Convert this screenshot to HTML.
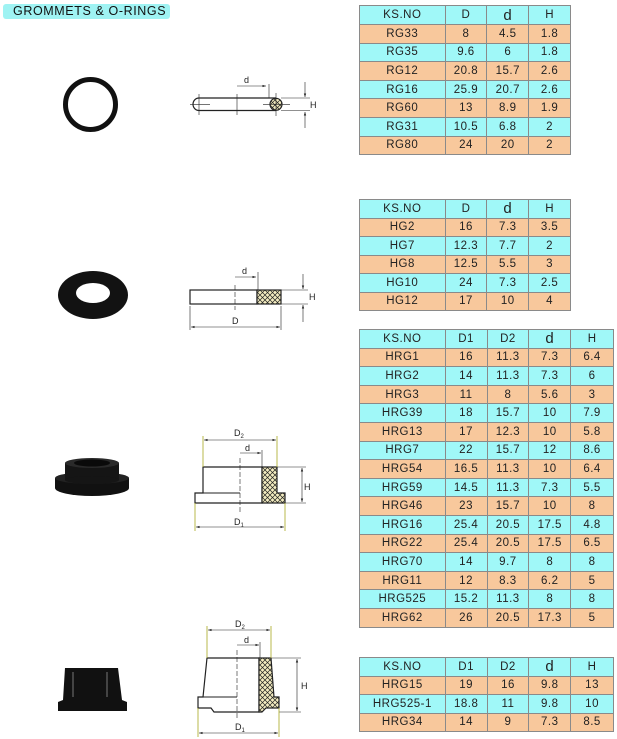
<!DOCTYPE html>
<html><head><meta charset="utf-8"><style>
html,body{margin:0;padding:0;background:#fff;}
body{width:617px;height:739px;position:relative;overflow:hidden;font-family:"Liberation Sans",sans-serif;}
.tag{position:absolute;left:3px;top:4px;width:167px;height:15px;background:#9ff3f3;border-radius:3px;font-size:12.5px;line-height:15px;letter-spacing:0.6px;padding-left:10px;box-sizing:border-box;color:#111;}
table{position:absolute;border-collapse:collapse;font-size:11.5px;color:#222;letter-spacing:0.5px;}
td{border:1px solid #8a8a8a;text-align:center;padding:0;}
tr.c td{background:#a0f8f8;}
tr.o td{background:#f8c89c;}
.dd{font-size:15px;}
svg{position:absolute;left:0;top:0;}
</style></head><body>
<div class="tag">GROMMETS &amp; O-RINGS</div>

<table style="left:359px;top:5px;width:212px;">
<colgroup><col style="width:86px"><col style="width:42px"><col style="width:42px"><col style="width:42px"></colgroup>
<tr class="c" style="height:19px"><td>KS.NO</td><td>D</td><td class="dd">d</td><td>H</td></tr>
<tr class="o" style="height:18.6px"><td>RG33</td><td>8</td><td>4.5</td><td>1.8</td></tr>
<tr class="c" style="height:18.6px"><td>RG35</td><td>9.6</td><td>6</td><td>1.8</td></tr>
<tr class="o" style="height:18.6px"><td>RG12</td><td>20.8</td><td>15.7</td><td>2.6</td></tr>
<tr class="c" style="height:18.6px"><td>RG16</td><td>25.9</td><td>20.7</td><td>2.6</td></tr>
<tr class="o" style="height:18.6px"><td>RG60</td><td>13</td><td>8.9</td><td>1.9</td></tr>
<tr class="c" style="height:18.6px"><td>RG31</td><td>10.5</td><td>6.8</td><td>2</td></tr>
<tr class="o" style="height:18.6px"><td>RG80</td><td>24</td><td>20</td><td>2</td></tr>
</table>

<table style="left:359px;top:199px;width:212px;">
<colgroup><col style="width:86px"><col style="width:42px"><col style="width:42px"><col style="width:42px"></colgroup>
<tr class="c" style="height:18.5px"><td>KS.NO</td><td>D</td><td class="dd">d</td><td>H</td></tr>
<tr class="o" style="height:18.5px"><td>HG2</td><td>16</td><td>7.3</td><td>3.5</td></tr>
<tr class="c" style="height:18.5px"><td>HG7</td><td>12.3</td><td>7.7</td><td>2</td></tr>
<tr class="o" style="height:18.5px"><td>HG8</td><td>12.5</td><td>5.5</td><td>3</td></tr>
<tr class="c" style="height:18.5px"><td>HG10</td><td>24</td><td>7.3</td><td>2.5</td></tr>
<tr class="o" style="height:18.5px"><td>HG12</td><td>17</td><td>10</td><td>4</td></tr>
</table>

<table style="left:359px;top:329px;width:255px;">
<colgroup><col style="width:86px"><col style="width:42px"><col style="width:42px"><col style="width:42px"><col style="width:43px"></colgroup>
<tr class="c" style="height:18.6px"><td>KS.NO</td><td>D1</td><td>D2</td><td class="dd">d</td><td>H</td></tr>
<tr class="o" style="height:18.6px"><td>HRG1</td><td>16</td><td>11.3</td><td>7.3</td><td>6.4</td></tr>
<tr class="c" style="height:18.6px"><td>HRG2</td><td>14</td><td>11.3</td><td>7.3</td><td>6</td></tr>
<tr class="o" style="height:18.6px"><td>HRG3</td><td>11</td><td>8</td><td>5.6</td><td>3</td></tr>
<tr class="c" style="height:18.6px"><td>HRG39</td><td>18</td><td>15.7</td><td>10</td><td>7.9</td></tr>
<tr class="o" style="height:18.6px"><td>HRG13</td><td>17</td><td>12.3</td><td>10</td><td>5.8</td></tr>
<tr class="c" style="height:18.6px"><td>HRG7</td><td>22</td><td>15.7</td><td>12</td><td>8.6</td></tr>
<tr class="o" style="height:18.6px"><td>HRG54</td><td>16.5</td><td>11.3</td><td>10</td><td>6.4</td></tr>
<tr class="c" style="height:18.6px"><td>HRG59</td><td>14.5</td><td>11.3</td><td>7.3</td><td>5.5</td></tr>
<tr class="o" style="height:18.6px"><td>HRG46</td><td>23</td><td>15.7</td><td>10</td><td>8</td></tr>
<tr class="c" style="height:18.6px"><td>HRG16</td><td>25.4</td><td>20.5</td><td>17.5</td><td>4.8</td></tr>
<tr class="o" style="height:18.6px"><td>HRG22</td><td>25.4</td><td>20.5</td><td>17.5</td><td>6.5</td></tr>
<tr class="c" style="height:18.6px"><td>HRG70</td><td>14</td><td>9.7</td><td>8</td><td>8</td></tr>
<tr class="o" style="height:18.6px"><td>HRG11</td><td>12</td><td>8.3</td><td>6.2</td><td>5</td></tr>
<tr class="c" style="height:18.6px"><td>HRG525</td><td>15.2</td><td>11.3</td><td>8</td><td>8</td></tr>
<tr class="o" style="height:18.6px"><td>HRG62</td><td>26</td><td>20.5</td><td>17.3</td><td>5</td></tr>
</table>

<table style="left:359px;top:657px;width:255px;">
<colgroup><col style="width:86px"><col style="width:42px"><col style="width:42px"><col style="width:42px"><col style="width:43px"></colgroup>
<tr class="c" style="height:18.5px"><td>KS.NO</td><td>D1</td><td>D2</td><td class="dd">d</td><td>H</td></tr>
<tr class="o" style="height:18.5px"><td>HRG15</td><td>19</td><td>16</td><td>9.8</td><td>13</td></tr>
<tr class="c" style="height:18.5px"><td>HRG525-1</td><td>18.8</td><td>11</td><td>9.8</td><td>10</td></tr>
<tr class="o" style="height:18.5px"><td>HRG34</td><td>14</td><td>9</td><td>7.3</td><td>8.5</td></tr>
</table>

<svg width="617" height="739" viewBox="0 0 617 739" font-family="Liberation Sans, sans-serif" font-size="9" fill="none">
<defs>
<pattern id="h" width="5" height="5" patternUnits="userSpaceOnUse">
<rect width="5" height="5" fill="#f3ecc0"/>
<path d="M0 0L5 5M5 0L0 5" stroke="#222" stroke-width="0.7"/>
</pattern>
<marker id="a" viewBox="0 0 6 6" refX="6" refY="3" markerWidth="6" markerHeight="6" orient="auto-start-reverse"><path d="M0 1L6 3L0 5z" fill="#222"/></marker>
</defs>

<!-- photo 1: O-ring -->
<circle cx="90.5" cy="104.5" r="25" stroke="#111" stroke-width="5"/>
<!-- drawing 1 -->
<g stroke="#222" stroke-width="1.2">
<path d="M199 98H276M199 110.5H276M199 98A6 6.25 0 0 0 199 110.5"/>
<circle cx="276" cy="104.3" r="6" fill="url(#h)"/>
</g>
<g stroke="#222" stroke-width="0.6">
<path d="M190 104.3H210M263 104.3H290M237 94V115M199 94V115M276 93V116M281 98H310M281 110.5H310"/>
<path d="M237 86H266" marker-end="url(#a)"/><path d="M269 84V98"/>
<path d="M305 82V97" marker-end="url(#a)"/><path d="M305 128V112" marker-end="url(#a)"/>
</g>
<text x="244" y="83" fill="#222">d</text><text x="310" y="108" fill="#222">H</text>

<!-- photo 2: washer -->
<ellipse cx="93" cy="295" rx="35" ry="24" fill="#121212"/>
<ellipse cx="93" cy="293" rx="17" ry="10" fill="#fff"/>
<!-- drawing 2 -->
<rect x="190" y="290" width="67" height="14" fill="#fff" stroke="#222" stroke-width="1.2"/>
<rect x="257" y="290" width="24" height="14" fill="url(#h)" stroke="#222" stroke-width="1.2"/>
<g stroke="#222" stroke-width="0.6">
<path d="M235 285V310" stroke-dasharray="5 2"/>
<path d="M235 277H256" marker-end="url(#a)"/><path d="M258 272V290"/>
<path d="M281 290H308M281 304H308"/>
<path d="M303 274V289" marker-end="url(#a)"/><path d="M303 322V305" marker-end="url(#a)"/>
<path d="M190 306V330M281 306V330"/>
<path d="M191 327H280" marker-start="url(#a)" marker-end="url(#a)"/>
</g>
<text x="242" y="274" fill="#222">d</text><text x="309" y="300" fill="#222">H</text><text x="232" y="324" fill="#222">D</text>

<!-- photo 3 -->
<ellipse cx="92" cy="488" rx="37" ry="8" fill="#111"/>
<rect x="55" y="478" width="74" height="10" fill="#111"/>
<ellipse cx="92" cy="478" rx="37" ry="6" fill="#222"/>
<rect x="65" y="463" width="54" height="17" fill="#151515"/>
<ellipse cx="92" cy="480" rx="27" ry="4" fill="#151515"/>
<ellipse cx="92" cy="463" rx="27" ry="5" fill="#2a2a2a"/>
<ellipse cx="92" cy="463" rx="18" ry="3.5" fill="#0a0a0a"/>
<!-- drawing 3 -->
<path d="M203 467H262V503H195V493H203Z" fill="#fff" stroke="#222" stroke-width="1.2"/>
<path d="M203 493H240" stroke="#222" stroke-width="1"/>
<path d="M262 467H277V493H285V503H262Z" fill="url(#h)" stroke="#222" stroke-width="1.2"/>
<g stroke="#222" stroke-width="0.6">
<path d="M240 458V512" stroke-dasharray="5 2"/>
<path d="M204 440H276" marker-start="url(#a)" marker-end="url(#a)"/>
<path d="M240 453H261" marker-end="url(#a)"/><path d="M262 450V467"/>
<path d="M277 467H306M285 503H306"/>
<path d="M302 468V502" marker-start="url(#a)" marker-end="url(#a)"/>
<path d="M196 527H284" marker-start="url(#a)" marker-end="url(#a)"/>
</g>
<g stroke="#a8a820" stroke-width="0.8"><path d="M203 436V467M277 436V467M195 503V531M285 503V531"/></g>
<text x="234" y="436" fill="#222">D<tspan font-size="6" dy="2">2</tspan></text>
<text x="245" y="451" fill="#222">d</text><text x="304" y="490" fill="#222">H</text>
<text x="234" y="525" fill="#222">D<tspan font-size="6" dy="2">1</tspan></text>

<!-- photo 4 -->
<path d="M65 668H118L122 700L127 702V711H58V702L63 700Z" fill="#111"/>
<path d="M73 672V697M107 672V697" stroke="#444" stroke-width="2"/>
<!-- drawing 4 -->
<path d="M207 658H259V712H214L211 708H198V697H203Z" fill="#fff" stroke="#222" stroke-width="1.2"/>
<path d="M203 697H237" stroke="#222" stroke-width="1"/>
<path d="M259 658H271L274 697H279V708H266L262 712H259Z" fill="url(#h)" stroke="#222" stroke-width="1.2"/>
<g stroke="#222" stroke-width="0.6">
<path d="M237 650V718" stroke-dasharray="5 2"/>
<path d="M208 630H270" marker-start="url(#a)" marker-end="url(#a)"/>
<path d="M237 645H259" marker-end="url(#a)"/><path d="M260 642V658"/>
<path d="M271 658H301M279 712H301"/>
<path d="M297 659V711" marker-start="url(#a)" marker-end="url(#a)"/>
<path d="M199 733H278" marker-start="url(#a)" marker-end="url(#a)"/>
</g>
<g stroke="#a8a820" stroke-width="0.8"><path d="M207 626V658M271 626V658M198 708V737M279 708V737"/></g>
<text x="235" y="627" fill="#222">D<tspan font-size="6" dy="2">2</tspan></text>
<text x="244" y="643" fill="#222">d</text><text x="301" y="689" fill="#222">H</text>
<text x="235" y="730" fill="#222">D<tspan font-size="6" dy="2">1</tspan></text>
</svg>
</body></html>
